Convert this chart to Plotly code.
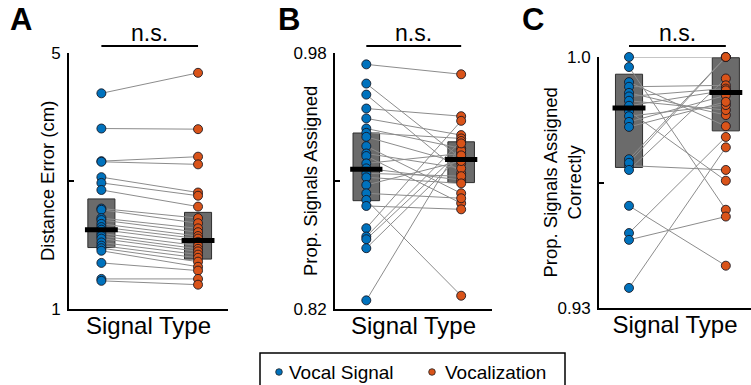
import plotly.graph_objects as go

# ---------------- data ----------------
categories = ["Vocal Signal", "Vocalization"]

# Panel A: Distance Error (cm), paired per subject
a_vocal_signal = [4.37, 3.82, 3.31, 3.30, 3.06, 2.97, 2.86, 2.57, 2.55, 2.42, 2.39, 2.33,
                  2.28, 2.24, 2.18, 2.14, 2.10, 2.04, 1.99, 1.95, 1.91, 1.72, 1.47, 1.44]
a_vocalization = [4.69, 3.81, 3.38, 3.26, 2.82, 2.77, 2.60, 2.42, 2.34, 2.26, 2.20, 2.14,
                  2.10, 2.05, 1.99, 1.94, 1.90, 1.85, 1.80, 1.74, 1.66, 1.60, 1.47, 1.38]
a_box_low = [1.96, 1.78]
a_box_high = [2.72, 2.51]
a_center = [2.24, 2.07]

# Panel B: Prop. Signals Assigned
b_vocal_signal = [0.9729, 0.9609, 0.9540, 0.9453, 0.9391, 0.9328, 0.9301, 0.9276, 0.9218,
                  0.9172, 0.9156, 0.9110, 0.9079, 0.9048, 0.9023, 0.8975, 0.8923, 0.8882,
                  0.8844, 0.8705, 0.8653, 0.8636, 0.8580, 0.8254]
b_vocalization = [0.9667, 0.9141, 0.9048, 0.9405, 0.9287, 0.9204, 0.9266, 0.9110, 0.8923,
                  0.9079, 0.8861, 0.9172, 0.9006, 0.9030, 0.8985, 0.9125, 0.8892, 0.8283,
                  0.8823, 0.9376, 0.9250, 0.9190, 0.9160, 0.9235]
b_box_low = [0.8877, 0.8990]
b_box_high = [0.9300, 0.9245]
b_center = [0.9073, 0.9135]

# Panel C: Prop. Signals Assigned Correctly
c_vocal_signal = [1.0000, 0.9972, 0.9849, 0.9697, 0.9585, 0.9509, 0.9490, 0.9356,
                  0.9715, 0.9705, 0.9685, 0.9930, 0.9917, 0.9900, 0.9890, 0.9878,
                  0.9864, 0.9835, 0.9819, 0.9805]
c_vocalization = [1.0000, 0.9574, 0.9655, 0.9685, 0.9418, 0.9777, 0.9555, 0.9748,
                  1.0000, 1.0000, 0.9940, 0.9807, 0.9921, 0.9838, 0.9912, 0.9852,
                  0.9907, 0.9866, 0.9893, 0.9875]
c_box_low = [0.9692, 0.9794]
c_box_high = [0.9952, 0.9998]
c_center = [0.9858, 0.9901]

panels = [
    dict(letter="A", blue=a_vocal_signal, orange=a_vocalization, low=a_box_low, high=a_box_high,
         center=a_center, yrange=[1, 5], ytickvals=[1, 3, 5], yticktext=["1", "", "5"],
         ytitle="Distance Error (cm)"),
    dict(letter="B", blue=b_vocal_signal, orange=b_vocalization, low=b_box_low, high=b_box_high,
         center=b_center, yrange=[0.82, 0.98], ytickvals=[0.82, 0.90, 0.98],
         yticktext=["0.82", "", "0.98"], ytitle="Prop. Signals Assigned"),
    dict(letter="C", blue=c_vocal_signal, orange=c_vocalization, low=c_box_low, high=c_box_high,
         center=c_center, yrange=[0.93, 1.0], ytickvals=[0.93, 0.965, 1.0],
         yticktext=["0.93", "", "1.0"], ytitle="Prop. Signals Assigned<br>Correctly"),
]

BLUE = "#0072BD"
ORANGE = "#D95319"
FONT = "Liberation Sans, Arial, sans-serif"
W, H = 751, 385

# pixel layout
x_domains = [(69, 228), (335, 492), (599, 751)]
x_ranges = [[0.665, 2.31], [0.67, 2.325], [0.69, 2.26]]
y_domains = [(53, 309), (53, 309), (57, 308)]
ytitle_x = [47, 310, 562]
letter_x = [8, 276, 520]

fig = go.Figure()
xpos = [1, 2]
box_w = 0.28
mean_half = 0.17

for i, p in enumerate(panels):
    sfx = "" if i == 0 else str(i + 1)
    xa, ya = "x" + sfx, "y" + sfx
    # boxes
    fig.add_trace(go.Bar(
        x=xpos, base=p["low"], y=[h - l for h, l in zip(p["high"], p["low"])],
        width=box_w, marker=dict(color="#6b6b6b", line=dict(color="#2e2e2e", width=1)),
        xaxis=xa, yaxis=ya, showlegend=False, hoverinfo="skip"))
    # paired lines
    lx, ly = [], []
    for b, o in zip(p["blue"], p["orange"]):
        lx += [xpos[0], xpos[1], None]
        ly += [b, o, None]
    fig.add_trace(go.Scatter(x=lx, y=ly, mode="lines", line=dict(color="#8c8c8c", width=1),
                             xaxis=xa, yaxis=ya, showlegend=False, hoverinfo="skip",
                             cliponaxis=False))
    # points
    for vals, xv, col, nm in [(p["blue"], xpos[0], BLUE, categories[0]),
                              (p["orange"], xpos[1], ORANGE, categories[1])]:
        fig.add_trace(go.Scatter(
            x=[xv] * len(vals), y=vals, mode="markers", name=nm,
            marker=dict(color=col, size=9, line=dict(color="rgba(20,20,30,0.85)", width=1)),
            xaxis=xa, yaxis=ya, showlegend=False, cliponaxis=False))
    # center bars
    mx, my = [], []
    for xv, c in zip(xpos, p["center"]):
        mx += [xv - mean_half, xv + mean_half, None]
        my += [c, c, None]
    fig.add_trace(go.Scatter(x=mx, y=my, mode="lines", line=dict(color="black", width=5),
                             xaxis=xa, yaxis=ya, showlegend=False, hoverinfo="skip",
                             cliponaxis=False))

    xd = x_domains[i]
    yd = y_domains[i]
    fig.layout["xaxis" + sfx] = dict(
        domain=[xd[0] / W, xd[1] / W], range=x_ranges[i], anchor=ya,
        showline=True, linecolor="black", linewidth=2, showgrid=False, zeroline=False,
        tickvals=[x_ranges[i][1]], ticks="inside", ticklen=4, tickwidth=2, tickcolor="black",
        showticklabels=False,
        title=dict(text="Signal Type", font=dict(size=24, color="black", family=FONT), standoff=7))
    fig.layout["yaxis" + sfx] = dict(
        domain=[1 - yd[1] / H, 1 - yd[0] / H], range=p["yrange"], anchor=xa,
        showline=True, linecolor="black", linewidth=2, showgrid=False, zeroline=False,
        tickvals=p["ytickvals"], ticktext=p["yticktext"], ticks="inside", ticklen=5,
        tickwidth=2, tickcolor="black", ticklabelstandoff=3,
        tickfont=dict(size=17, color="black", family=FONT))

    # y-axis title
    fig.add_annotation(text=p["ytitle"], xref="paper", yref="paper",
                       x=ytitle_x[i] / W, y=1 - ((yd[0] + yd[1]) / 2) / H,
                       xanchor="center", yanchor="middle", textangle=-90, showarrow=False,
                       font=dict(size=18.5, color="black", family=FONT))
    # panel letter
    fig.add_annotation(text="<b>%s</b>" % p["letter"], xref="paper", yref="paper",
                       x=letter_x[i] / W, y=1.0, xanchor="left", yanchor="top",
                       showarrow=False, font=dict(size=31, color="black", family=FONT))
    # n.s. bracket
    fig.add_shape(type="line", xref=xa, yref="paper", x0=xpos[0], x1=xpos[1],
                  y0=1 - 46 / H, y1=1 - 46 / H, line=dict(color="black", width=2))
    fig.add_annotation(text="n.s.", xref=xa, yref="paper", x=1.5, y=1 - 48 / H,
                       xanchor="center", yanchor="bottom", showarrow=False,
                       font=dict(size=23, color="black", family=FONT))

# ---------------- legend (drawn box, dots and text) ----------------
leg_left, leg_right, leg_top, leg_mid = 260, 565, 353, 372
fig.add_shape(type="rect", xref="paper", yref="paper",
              x0=leg_left / W, x1=leg_right / W, y0=1 - leg_top / H, y1=-0.2,
              line=dict(color="black", width=1.5), fillcolor="white", layer="above")
for name, col, dot_x, text_x in zip(categories, [BLUE, ORANGE], [279, 432], [287, 443]):
    r = 3.3
    fig.add_shape(type="circle", xref="paper", yref="paper",
                  x0=(dot_x - r) / W, x1=(dot_x + r) / W,
                  y0=1 - (leg_mid + r) / H, y1=1 - (leg_mid - r) / H,
                  fillcolor=col, line=dict(color="#222", width=0.8), layer="above")
    fig.add_annotation(text=name, xref="paper", yref="paper", x=text_x / W, y=1 - leg_mid / H,
                       xanchor="left", yanchor="middle", showarrow=False,
                       font=dict(size=19, color="black", family=FONT))

fig.update_layout(
    width=W, height=H, margin=dict(l=0, r=0, t=0, b=0, autoexpand=False),
    paper_bgcolor="white", plot_bgcolor="white",
    font=dict(family=FONT, color="black"),
    barmode="overlay",
    showlegend=False,
)

fig.write_html("out.html")
